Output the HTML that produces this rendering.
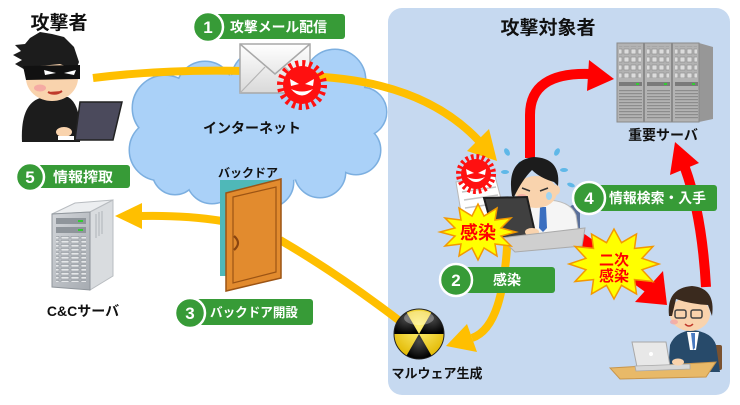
<!DOCTYPE html>
<html><head><meta charset="utf-8">
<style>
html,body{margin:0;padding:0;background:#fff;}
svg{display:block;}
text{font-family:"Liberation Sans","Noto Sans CJK JP",sans-serif;font-weight:bold;}
</style></head><body>
<svg width="740" height="405" viewBox="0 0 740 405" xmlns="http://www.w3.org/2000/svg">
<defs>
 <linearGradient id="env" x1="0" y1="0" x2="0" y2="1"><stop offset="0" stop-color="#ffffff"/><stop offset="1" stop-color="#d9d9d9"/></linearGradient>
 <radialGradient id="yel" cx="0.5" cy="0.35" r="0.65"><stop offset="0" stop-color="#fff27a"/><stop offset="1" stop-color="#e2b800"/></radialGradient>
 <radialGradient id="blk" cx="0.5" cy="0.3" r="0.7"><stop offset="0" stop-color="#4a4a4a"/><stop offset="1" stop-color="#000"/></radialGradient>
 <linearGradient id="ccf" x1="0" y1="0" x2="1" y2="1"><stop offset="0" stop-color="#d2d5d9"/><stop offset="1" stop-color="#a6abb1"/></linearGradient>
 <pattern id="slots" x="0" y="0" width="7" height="8" patternUnits="userSpaceOnUse"><rect x="1" y="1" width="5" height="5" fill="#dcdcdc" stroke="#868686" stroke-width="0.6"/></pattern>
 <pattern id="hl" x="0" y="0" width="4" height="3" patternUnits="userSpaceOnUse"><rect x="0" y="0" width="4" height="1.2" fill="#8c8c8c"/></pattern>
 <pattern id="ccg" x="0" y="0" width="10" height="4" patternUnits="userSpaceOnUse"><rect x="1" y="0.5" width="8" height="2.5" fill="#e6e8ea" stroke="#7d848b" stroke-width="0.5"/></pattern>
</defs>
<rect width="740" height="405" fill="#fff"/>
<!-- target panel -->
<rect x="388" y="8" width="342" height="387" rx="14" fill="#c6d9f0"/>

<!-- cloud -->
<g fill="#aad1f8" stroke="#7cafe0" stroke-width="3">
 <circle cx="165" cy="108" r="32"/>
 <circle cx="160" cy="150" r="30"/>
 <circle cx="205" cy="90" r="28"/>
 <circle cx="262" cy="80" r="30"/>
 <circle cx="335" cy="80" r="30"/>
 <circle cx="362" cy="112" r="24"/>
 <circle cx="356" cy="150" r="24"/>
 <circle cx="320" cy="172" r="25"/>
 <circle cx="268" cy="182" r="25"/>
 <circle cx="212" cy="178" r="25"/>
 <circle cx="175" cy="172" r="22"/>
</g>
<g fill="#aad1f8">
 <circle cx="165" cy="108" r="32"/>
 <circle cx="160" cy="150" r="30"/>
 <circle cx="205" cy="90" r="28"/>
 <circle cx="262" cy="80" r="30"/>
 <circle cx="335" cy="80" r="30"/>
 <circle cx="362" cy="112" r="24"/>
 <circle cx="356" cy="150" r="24"/>
 <circle cx="320" cy="172" r="25"/>
 <circle cx="268" cy="182" r="25"/>
 <circle cx="212" cy="178" r="25"/>
 <circle cx="175" cy="172" r="22"/>
 <ellipse cx="260" cy="128" rx="100" ry="55"/>
</g>

<!-- orange connectors -->
<g fill="none" stroke="#ffbf00" stroke-width="8">
 <path d="M93 78 Q165 69 245 71"/>
 <path d="M300 76 Q420 78 479 141"/>
 <path d="M222 221 Q185 215 140 216"/>
 <path d="M280 240 Q340 275 405 325"/>
 <path d="M508 232 C505 295 495 330 472 338"/>
</g>
<g fill="#ffbf00">
 <polygon points="497,161 467,151 489,129"/>
 <polygon points="115,216 142,203 142,229"/>
 <polygon points="446,346 477,352 467,324"/>
</g>

<!-- red connectors -->
<g fill="none" stroke="#ff0000">
 <path d="M530 158 L530 115 Q530 72 590 74" stroke-width="10"/>
 <path d="M706 287 Q702 215 685 168" stroke-width="10"/>
 <path d="M577 236 L650 288" stroke-width="12"/>
</g>
<g fill="#ff0000">
 <polygon points="614,79 589,60 587,91"/>
 <polygon points="675,142 699,163 670,175"/>
 <polygon points="667,305 635,302 663,271"/>
</g>

<!-- envelope -->
<rect x="240" y="44" width="70" height="49" fill="url(#env)" stroke="#a8a8a8" stroke-width="1.5"/>
<polyline points="240,44 275,74 310,44" fill="none" stroke="#a8a8a8" stroke-width="1.5"/>
<line x1="240" y1="93" x2="265" y2="67" stroke="#b5b5b5" stroke-width="1.2"/>
<line x1="310" y1="93" x2="285" y2="67" stroke="#b5b5b5" stroke-width="1.2"/>

<!-- virus 1 -->
<g transform="translate(302,85)">
 <circle r="19" fill="#ff1010"/>
 <circle r="21" fill="none" stroke="#ff1010" stroke-width="8" stroke-dasharray="3 3.6"/>
 <polygon points="-12,-6 -3,-1 -11,1" fill="#fff"/>
 <polygon points="12,-6 3,-1 11,1" fill="#fff"/>
 <path d="M-11 4 Q0 17 11 4 Q0 9 -11 4 Z" fill="#fff"/>
</g>

<!-- door -->
<rect x="220" y="180" width="58" height="96" fill="#4fb8b8"/>
<polygon points="226,193 281,179 281,278 226,291" fill="#e28b2e" stroke="#9c5414" stroke-width="1.5"/>
<polygon points="233,197 276,187 276,272 233,283" fill="none" stroke="#9c5414" stroke-width="1.2"/>
<path d="M234 236 Q242 243 234 250" stroke="#8a4510" stroke-width="2.2" fill="none"/>

<!-- radiation icon -->
<g>
 <circle cx="419" cy="334" r="25" fill="url(#yel)"/>
 <path d="M419 334 L431.5 355.65 A25 25 0 0 1 406.5 355.65 Z" fill="url(#blk)"/>
 <path d="M419 334 L394 334 A25 25 0 0 1 406.5 312.35 Z" fill="url(#blk)"/>
 <path d="M419 334 L431.5 312.35 A25 25 0 0 1 444 334 Z" fill="url(#blk)"/>
 <ellipse cx="419" cy="318" rx="15" ry="7" fill="#fff" opacity="0.3"/>
 <circle cx="419" cy="334" r="25" fill="none" stroke="#222" stroke-width="1"/>
</g>

<!-- attacker -->
<g>
 <path d="M22 142 Q20 100 45 97 L68 97 Q82 105 80 142 Z" fill="#1c1c1c"/>
 <ellipse cx="52" cy="78" rx="26" ry="23" fill="#f9d3ad"/>
 <polygon points="30,38 40,32 52,34 64,37 74,47 79,62 76,70 60,64 40,66 28,72 22,68 15,64 22,60 13,55 21,51 15,45 25,44" fill="#1c1c1c"/>
 <polygon points="23,66 80,65 80,79 26,80" fill="#111"/>
 <polygon points="44,70 56,73 45,75" fill="#fff"/>
 <polygon points="64,73 76,70 74,75" fill="#fff"/>
 <ellipse cx="40" cy="88" rx="6" ry="3.5" fill="#f4a0a0" opacity="0.8"/>
 <path d="M48 92 Q55 96 62 91" stroke="#c0392b" stroke-width="2" fill="#c0392b"/>
 <polygon points="80,102 122,102 113,140 75,140" fill="#4b4a5c" stroke="#222" stroke-width="1.5"/>
 <ellipse cx="64" cy="132" rx="8" ry="5" fill="#f9d3ad"/>
 <rect x="58" y="136" width="16" height="4" fill="#fff"/>
</g>

<!-- C&C server -->
<g>
 <polygon points="52,214 75,203 113,200 90,212" fill="#eceef0" stroke="#b8bcc0"/>
 <polygon points="90,212 113,200 113,276 90,290" fill="#d9dcdf" stroke="#b8bcc0"/>
 <polygon points="52,214 90,212 90,290 52,287" fill="url(#ccf)" stroke="#8f959b"/>
 <rect x="56" y="218" width="30" height="6" fill="#8f959b"/>
 <rect x="78" y="220" width="5" height="2" fill="#3c3"/>
 <rect x="56" y="227" width="30" height="6" fill="#8f959b"/>
 <rect x="78" y="229" width="5" height="2" fill="#3c3"/>
 <rect x="56" y="236" width="30" height="46" fill="url(#ccg)"/>
 <g stroke="#b0b4b8" stroke-width="1"><line x1="96" y1="214" x2="96" y2="238"/><line x1="99" y1="212" x2="99" y2="236"/><line x1="102" y1="211" x2="102" y2="234"/></g>
</g>

<!-- important server -->
<g>
 <polygon points="699,43 713,47 713,119 699,122" fill="#979797"/>
 <rect x="617" y="43" width="82" height="79" fill="#b3b3b3" stroke="#8a8a8a"/>
 <line x1="644" y1="43" x2="644" y2="122" stroke="#8a8a8a" stroke-width="2"/>
 <line x1="672" y1="43" x2="672" y2="122" stroke="#8a8a8a" stroke-width="2"/>
 <rect x="619" y="46" width="22" height="32" fill="url(#slots)"/>
 <rect x="647" y="46" width="22" height="32" fill="url(#slots)"/>
 <rect x="675" y="46" width="22" height="32" fill="url(#slots)"/>
 <rect x="619" y="82" width="23" height="4" fill="#7a7a7a"/>
 <rect x="647" y="82" width="23" height="4" fill="#7a7a7a"/>
 <rect x="675" y="82" width="23" height="4" fill="#7a7a7a"/>
 <rect x="636" y="83" width="3" height="2" fill="#3c3"/>
 <rect x="664" y="83" width="3" height="2" fill="#3c3"/>
 <rect x="692" y="83" width="3" height="2" fill="#3c3"/>
 <rect x="619" y="90" width="23" height="30" fill="url(#hl)"/>
 <rect x="647" y="90" width="23" height="30" fill="url(#hl)"/>
 <rect x="675" y="90" width="23" height="30" fill="url(#hl)"/>
</g>

<!-- infected person -->
<g>
 <polygon points="456,182 495,176 505,214 462,218" fill="#fff" stroke="#b8b8b8"/>
 <g stroke="#c4c4c4" stroke-width="1.5"><line x1="462" y1="192" x2="496" y2="187"/><line x1="464" y1="200" x2="498" y2="195"/><line x1="465" y1="208" x2="500" y2="203"/></g>
 <g fill="#5fb8e8">
  <ellipse cx="507" cy="152" rx="2.5" ry="4" transform="rotate(-30 507 152)"/>
  <ellipse cx="520" cy="165" rx="2" ry="3.5"/>
  <ellipse cx="557" cy="152" rx="2.5" ry="4" transform="rotate(30 557 152)"/>
  <ellipse cx="564" cy="170" rx="4" ry="2"/>
  <ellipse cx="571" cy="185" rx="4" ry="2" transform="rotate(20 571 185)"/>
  <ellipse cx="505" cy="172" rx="4" ry="2"/>
 </g>
 <rect x="570" y="205" width="10" height="35" rx="3" fill="#5a6f9a"/>
 <path d="M516 214 Q524 200 545 200 Q570 200 576 215 L580 242 L518 244 Z" fill="#f5f5f5" stroke="#bbb"/>
 <polygon points="540,207 546,207 547,228 543,232 539,228" fill="#3b6fc0"/>
 <ellipse cx="536" cy="192" rx="21" ry="16" fill="#f9d3ad"/>
 <ellipse cx="556" cy="190" rx="4" ry="5" fill="#f9d3ad"/>
 <path d="M512 196 Q506 160 534 157 Q561 158 558 186 L554 182 Q540 178 532 170 Q522 180 514 197 Z" fill="#1c1c1c"/>
 <path d="M522 188 L530 191 M540 191 L548 188" stroke="#333" stroke-width="1.5"/>
 <ellipse cx="522" cy="197" rx="5" ry="3" fill="#f4a0a0" opacity="0.7"/>
 <ellipse cx="549" cy="196" rx="3" ry="4" fill="#9fd4f2"/>
 <polygon points="484,198 527,197 536,237 495,238" fill="#404040" stroke="#1e1e1e" stroke-width="2"/>
 <ellipse cx="532" cy="232" rx="7" ry="4" fill="#f9d3ad"/>
 <polygon points="500,238 585,228 582,246 515,252" fill="#cfcfcf" stroke="#aaa"/>
</g>

<!-- virus 2 -->
<g transform="translate(476,174)">
 <circle r="15" fill="#ff1010"/>
 <circle r="16.5" fill="none" stroke="#ff1010" stroke-width="7" stroke-dasharray="2.6 2.6"/>
 <polygon points="-10,-5 -2,-1 -9,1" fill="#fff"/>
 <polygon points="10,-5 2,-1 9,1" fill="#fff"/>
 <path d="M-9 3 Q0 13 9 3 Q0 7 -9 3 Z" fill="#fff"/>
</g>

<!-- bottom person -->
<g>
 <rect x="712" y="345" width="10" height="25" rx="2" fill="#7a5230"/>
 <path d="M668 372 L670 345 Q675 332 692 330 Q712 332 716 345 L720 372 Z" fill="#274a6a"/>
 <polygon points="687,332 699,332 696,350 690,350" fill="#fff"/>
 <polygon points="691,333 695,333 695,348 693,350" fill="#4a7ac0"/>
 <ellipse cx="690" cy="314" rx="20" ry="17" fill="#f9d3ad"/>
 <path d="M669 316 Q666 288 692 286 Q716 288 712 316 L708 305 Q690 304 676 299 L672 316 Z" fill="#3a2a1e"/>
 <rect x="675" y="310" width="11" height="8" rx="2" fill="none" stroke="#444" stroke-width="1.5"/>
 <rect x="691" y="310" width="11" height="8" rx="2" fill="none" stroke="#444" stroke-width="1.5"/>
 <path d="M685 324 Q689 328 693 324" stroke="#c0392b" stroke-width="1.5" fill="none"/>
 <ellipse cx="674" cy="322" rx="4" ry="2.5" fill="#f4a0a0" opacity="0.7"/>
 <polygon points="610,368 716,362 706,377 620,379" fill="#e8b968" stroke="#c8954a"/>
 <polygon points="632,342 666,342 670,366 637,367" fill="#e8e8e8" stroke="#a8a8a8"/>
 <circle cx="651" cy="354" r="2" fill="#fff"/>
 <polygon points="635,366 690,364 690,369 636,371" fill="#d8d8d8" stroke="#a8a8a8" stroke-width="0.8"/>
 <ellipse cx="678" cy="362" rx="6" ry="3.5" fill="#f9d3ad"/>
</g>

<!-- starbursts -->
<polygon points="516,232 501,236 511,246 495,244 497,256 484,248 478,260 472,248 459,256 461,244 445,246 455,236 440,232 455,228 445,218 461,220 459,208 472,216 478,204 484,216 497,208 495,220 511,218 501,228" fill="#ffff00" stroke="#f39800" stroke-width="1.5"/>
<text x="478" y="239" font-size="18" fill="#ff0000" text-anchor="middle">感染</text>

<polygon points="659,264 642,269.7 653,281.5 634.5,279.6 636.5,294 621.5,285.3 614,299 606.5,285.3 591.5,294 593.5,279.6 575,281.5 586,269.7 569,264 586,258.3 575,246.5 593.5,248.4 591.5,234 606.5,242.7 614,229 621.5,242.7 636.5,234 634.5,248.4 653,246.5 642,258.3" fill="#ffff00" stroke="#f39800" stroke-width="1.5"/>
<text x="614" y="265" font-size="15" fill="#ff0000" text-anchor="middle">二次</text>
<text x="614" y="281" font-size="15" fill="#ff0000" text-anchor="middle">感染</text>

<!-- titles -->
<text x="59" y="29" font-size="19" fill="#111" text-anchor="middle">攻撃者</text>
<text x="548" y="34" font-size="19" fill="#111" text-anchor="middle">攻撃対象者</text>
<text x="252" y="133" font-size="14" fill="#111" text-anchor="middle">インターネット</text>
<text x="248" y="177" font-size="12" fill="#111" text-anchor="middle">バックドア</text>
<text x="83" y="316" font-size="14" fill="#111" text-anchor="middle">C&amp;Cサーバ</text>
<text x="663" y="140" font-size="14" fill="#111" text-anchor="middle">重要サーバ</text>
<text x="437" y="378" font-size="13" fill="#111" text-anchor="middle">マルウェア生成</text>

<!-- step labels -->
<g fill="#379b37">
 <rect x="215" y="14" width="130" height="25" rx="3"/>
 <rect x="38" y="165" width="92" height="23" rx="3"/>
 <rect x="196" y="299" width="117" height="26" rx="3"/>
 <rect x="450" y="267" width="105" height="26" rx="3"/>
 <rect x="592" y="185" width="125" height="26" rx="3"/>
</g>
<g fill="#379b37" stroke="#fff" stroke-width="2.5">
 <circle cx="208" cy="27" r="15"/>
 <circle cx="30" cy="177" r="14"/>
 <circle cx="190" cy="313" r="15"/>
 <circle cx="456" cy="280" r="16"/>
 <circle cx="589" cy="198" r="16"/>
</g>
<g fill="#fff" font-size="17" text-anchor="middle">
 <text x="208" y="33">1</text>
 <text x="30" y="183">5</text>
 <text x="190" y="319">3</text>
 <text x="456" y="286">2</text>
 <text x="589" y="204">4</text>
</g>
<g fill="#fff">
 <text x="230" y="32" font-size="14" textLength="97" lengthAdjust="spacingAndGlyphs">攻撃メール配信</text>
 <text x="53" y="182" font-size="14" textLength="60" lengthAdjust="spacingAndGlyphs">情報搾取</text>
 <text x="210" y="317" font-size="13" textLength="88" lengthAdjust="spacingAndGlyphs">バックドア開設</text>
 <text x="507" y="285" font-size="14" text-anchor="middle">感染</text>
 <text x="609" y="203" font-size="14" textLength="97" lengthAdjust="spacingAndGlyphs">情報検索・入手</text>
</g>
</svg>
</body></html>
